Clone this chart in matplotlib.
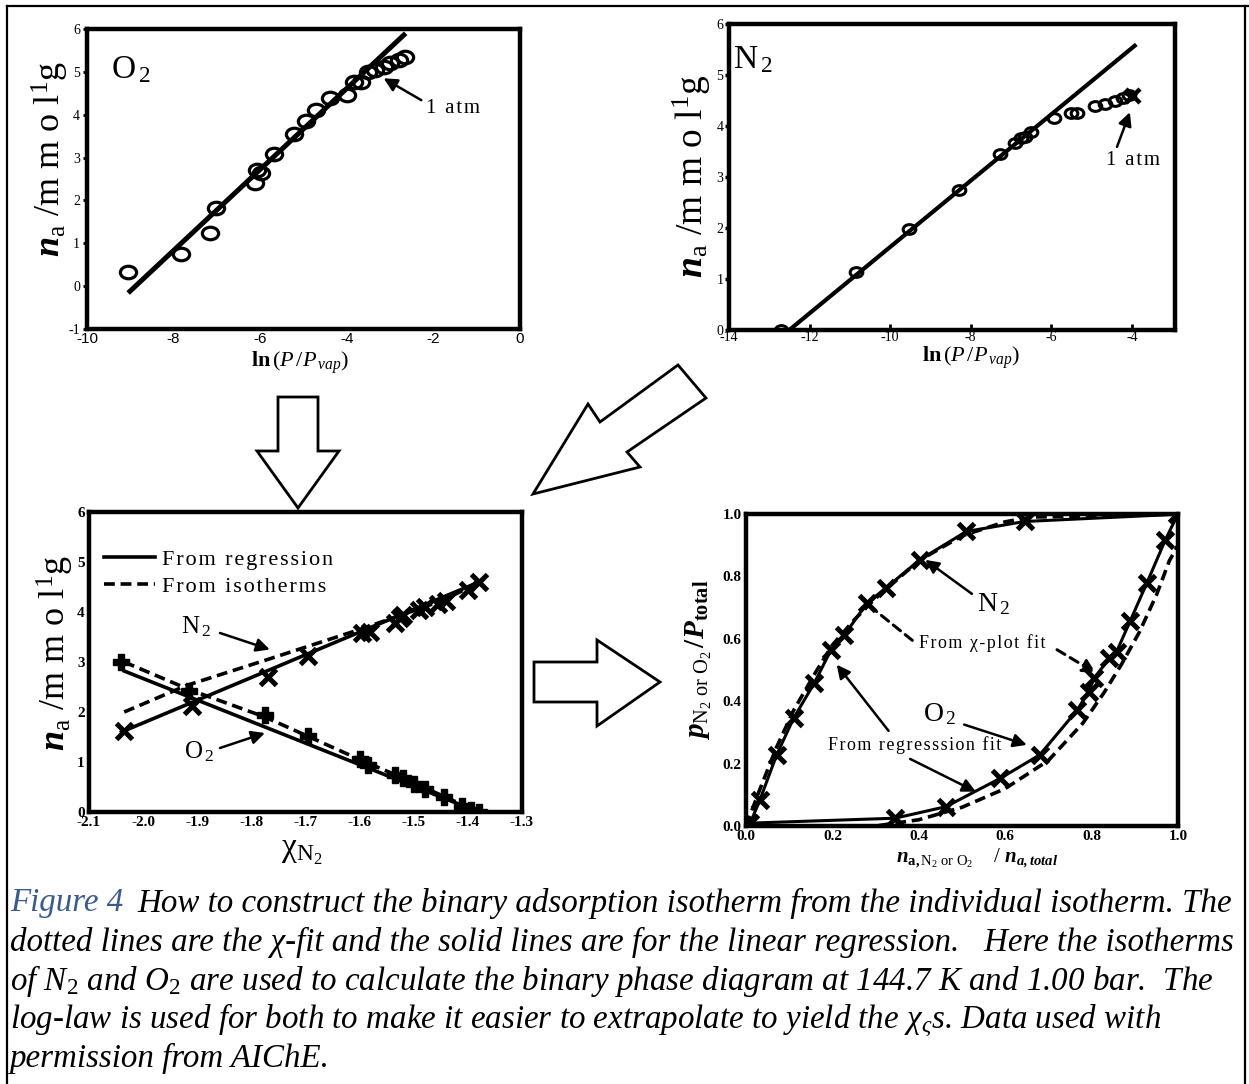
import matplotlib
matplotlib.use('Agg')
import matplotlib.pyplot as plt
from matplotlib.patches import Polygon
from matplotlib.lines import Line2D
from matplotlib.markers import MarkerStyle
from matplotlib.transforms import Affine2D

# ---------------- data ----------------
# Top-left: O2 isotherm, ln(P/Pvap) vs n_a
o2_lnp = [-9.05, -7.84, -7.16, -7.02, -6.13, -6.08, -5.97, -5.67, -5.22, -4.94, -4.70,
          -4.38, -3.99, -3.83, -3.67, -3.51, -3.35, -3.15, -3.00, -2.80, -2.65]
o2_na = [0.34, 0.76, 1.25, 1.82, 2.40, 2.72, 2.63, 3.09, 3.56, 3.85, 4.10,
         4.38, 4.46, 4.77, 4.77, 5.00, 5.04, 5.12, 5.20, 5.28, 5.34]
o2_fit_x = [-9.05, -2.64]
o2_fit_y = [-0.16, 5.90]

# Top-right: N2 isotherm
n2_lnp = [-12.70, -10.84, -9.54, -8.30, -7.27, -6.91, -6.76, -6.66, -6.51, -5.94,
          -5.51, -5.36, -4.92, -4.67, -4.42, -4.22, -4.07]
n2_na = [0.00, 1.14, 1.98, 2.75, 3.46, 3.67, 3.76, 3.79, 3.88, 4.15,
         4.25, 4.25, 4.40, 4.43, 4.50, 4.55, 4.61]
n2_atm_lnp = [-3.97]
n2_atm_na = [4.58]
n2_fit_x = [-12.55, -3.89]
n2_fit_y = [-0.03, 5.60]

# Bottom-left: n_a vs chi_N2
chi_n2_pts = [-2.035, -1.91, -1.77, -1.695, -1.595, -1.58, -1.535, -1.525, -1.52,
              -1.49, -1.48, -1.455, -1.44, -1.40, -1.38]
na_n2_pts = [1.62, 2.12, 2.70, 3.13, 3.58, 3.60, 3.78, 3.88, 3.95,
             4.05, 4.10, 4.17, 4.22, 4.45, 4.60]
chi_o2_pts = [-2.04, -1.915, -1.775, -1.695, -1.60, -1.585, -1.535, -1.52, -1.50,
              -1.48, -1.445, -1.41, -1.395, -1.38]
na_o2_pts = [3.00, 2.42, 1.95, 1.52, 1.07, 0.95, 0.75, 0.68, 0.57,
             0.47, 0.30, 0.13, 0.05, 0.00]
n2_reg_x = [-2.04, -1.375]
n2_reg_y = [1.60, 4.62]
o2_reg_x = [-2.035, -1.38]
o2_reg_y = [2.82, 0.00]
n2_iso_x = [-2.035, -1.92, -1.77, -1.60, -1.52, -1.45, -1.38]
n2_iso_y = [2.00, 2.53, 3.05, 3.65, 3.95, 4.22, 4.58]
o2_iso_x = [-2.035, -1.915, -1.775, -1.60, -1.52, -1.38]
o2_iso_y = [3.00, 2.45, 1.90, 1.05, 0.68, 0.00]

# Bottom-right: binary phase diagram
n2_frac = [0.010, 0.032, 0.071, 0.110, 0.158, 0.197, 0.228, 0.280, 0.323, 0.402, 0.510, 0.645, 0.997]
n2_p = [0.010, 0.083, 0.228, 0.345, 0.458, 0.565, 0.613, 0.714, 0.762, 0.853, 0.944, 0.976, 0.999]
o2_frac = [0.006, 0.345, 0.463, 0.589, 0.680, 0.767, 0.793, 0.806, 0.841, 0.858, 0.889, 0.928, 0.971, 1.000]
o2_p = [0.009, 0.025, 0.062, 0.153, 0.228, 0.372, 0.431, 0.474, 0.538, 0.559, 0.656, 0.779, 0.918, 1.000]
n2_chi_frac = [0.0, 0.03, 0.07, 0.11, 0.16, 0.20, 0.25, 0.30, 0.35, 0.40, 0.50, 0.60, 0.66, 1.0]
n2_chi_p = [0.0, 0.11, 0.25, 0.37, 0.49, 0.58, 0.66, 0.73, 0.79, 0.85, 0.93, 0.975, 0.99, 1.0]
o2_chi_frac = [0.0, 0.30, 0.40, 0.50, 0.60, 0.70, 0.78, 0.83, 0.87, 0.91, 0.95, 0.98, 1.0]
o2_chi_p = [0.0, 0.0, 0.02, 0.06, 0.12, 0.21, 0.33, 0.43, 0.52, 0.62, 0.74, 0.85, 0.90]

caption_lines = [
    "How to construct the binary adsorption isotherm from the individual isotherm. The",
    "dotted lines are the \u03c7-fit and the solid lines are for the linear regression.   Here the isotherms",
    "of N$_2$ and O$_2$ are used to calculate the binary phase diagram at 144.7 K and 1.00 bar.  The",
    "log-law is used for both to make it easier to extrapolate to yield the \u03c7$_\u03c2$s. Data used with",
    "permission from AIChE.",
]

# ---------------- style ----------------
SERIF = ['Liberation Serif', 'DejaVu Serif']
plt.rcParams.update({
    'font.family': SERIF,
    'axes.unicode_minus': False,
    'mathtext.fontset': 'custom',
    'mathtext.rm': 'Liberation Serif',
    'mathtext.it': 'Liberation Serif:italic',
    'mathtext.bf': 'Liberation Serif:bold',
    'mathtext.sf': 'Liberation Serif',
})
try:
    plt.rcParams['mathtext.bfit'] = 'Liberation Serif:italic:bold'
except KeyError:
    pass

W, H = 1249, 1084
fig = plt.figure(figsize=(W / 100, H / 100), dpi=100)
fig.patch.set_facecolor('white')


def add_ax(x0, y0, x1, y1):
    return fig.add_axes([x0 / W, 1 - y1 / H, (x1 - x0) / W, (y1 - y0) / H])


def ftext(x, y, s, **kw):
    return fig.text(x / W, 1 - y / H, s, **kw)


def spaced(s):
    return '\u200a'.join(s)


def box(ax, lw=3.2):
    for sp in ax.spines.values():
        sp.set_linewidth(lw)


arrow_kw = dict(arrowstyle='-|>', color='k', lw=1.8, mutation_scale=20, shrinkA=0, shrinkB=0)

# outer frame
for xs, ys in [([7, 7], [6, H]), ([7, W], [6, 6]), ([1245, 1245], [6, H])]:
    fig.add_artist(Line2D([x / W for x in xs], [1 - y / H for y in ys], color='k', lw=1.6))

ylabel_na = r'$\mathbfit{n}_{\mathrm{a}}$ /m m o l$^{\mathrm{1}}$g'
xlabel_ln = r'$\mathbf{ln}\,(\mathit{P}\,/\mathit{P}_{\,\mathit{vap}})$'

# ---------------- top-left: O2 ----------------
ax1 = add_ax(87, 29, 520, 329)
box(ax1)
ellipse = MarkerStyle('o', transform=Affine2D().scale(1.3, 1.0))
ax1.plot(o2_fit_x, o2_fit_y, color='k', lw=3.6, solid_capstyle='butt')
ax1.plot(o2_lnp, o2_na, linestyle='none', marker=ellipse, ms=9, mfc='none', mec='k', mew=2.3)
ax1.set_xlim(-10, 0)
ax1.set_ylim(-1, 6)
ax1.set_xticks(range(-10, 1, 2))
ax1.set_yticks(range(-1, 7))
ax1.tick_params(axis='x', direction='in', length=0, pad=2, labelsize=11)
ax1.tick_params(axis='y', direction='out', length=3, width=2, pad=2, labelsize=10)
for lab in ax1.get_xticklabels():
    lab.set_family(['Liberation Sans', 'DejaVu Sans'])
ax1.text(-9.45, 5.05, r'O$_{\,2}$', fontsize=24, ha='left', va='center')
ax1.annotate('', xy=(-3.15, 4.85), xytext=(-2.28, 4.34), arrowprops=arrow_kw)
ax1.text(-2.16, 4.14, spaced('1 atm'), fontsize=15, ha='left', va='center')
ftext(50, 159, ylabel_na, rotation=90, fontsize=26, ha='center', va='center')
ftext(300, 363, xlabel_ln, fontsize=16, ha='center', va='center')

# ---------------- top-right: N2 ----------------
ax2 = add_ax(729, 24, 1175, 330)
box(ax2)
ax2.plot(n2_fit_x, n2_fit_y, color='k', lw=3.0, solid_capstyle='butt')
ax2.plot(n2_lnp, n2_na, linestyle='none', marker=ellipse, ms=7, mfc='none', mec='k', mew=2.2)
ax2.plot(n2_atm_lnp, n2_atm_na, linestyle='none', marker='x', ms=10, mec='k', mew=3.2)
ax2.set_xlim(-14, -2.93)
ax2.set_ylim(0, 6)
ax2.set_xticks(range(-14, -3, 2))
ax2.set_yticks(range(0, 7))
ax2.tick_params(axis='x', direction='in', length=4, width=2, pad=1, labelsize=10)
ax2.tick_params(axis='y', direction='out', length=3, width=2.5, pad=1, labelsize=10)
ax2.text(-13.9, 5.3, r'N$_{\,2}$', fontsize=24, ha='left', va='center')
ax2.annotate('', xy=(-4.05, 4.27), xytext=(-4.37, 3.59), arrowprops=arrow_kw)
ax2.text(-4.65, 3.33, spaced('1 atm'), fontsize=15, ha='left', va='center')
ftext(692, 176, ylabel_na, rotation=90, fontsize=27, ha='center', va='center')
ftext(971, 358, xlabel_ln, fontsize=16, ha='center', va='center')

# ---------------- bottom-left: chi plot ----------------
ax3 = add_ax(89, 512, 522, 812)
box(ax3)
h_reg, = ax3.plot(n2_reg_x, n2_reg_y, color='k', lw=2.6)
ax3.plot(o2_reg_x, o2_reg_y, color='k', lw=2.6)
h_iso, = ax3.plot(n2_iso_x, n2_iso_y, color='k', lw=2.6, ls=(0, (3, 1.6)))
ax3.plot(o2_iso_x, o2_iso_y, color='k', lw=2.6, ls=(0, (3, 1.6)))
ax3.plot(chi_n2_pts, na_n2_pts, linestyle='none', marker='x', ms=11, mec='k', mew=3.6)
ax3.plot(chi_o2_pts, na_o2_pts, linestyle='none', marker='P', ms=11, mfc='k', mec='k', mew=1)
ax3.set_xlim(-2.1, -1.3)
ax3.set_ylim(0, 6)
xt = [-2.1, -2.0, -1.9, -1.8, -1.7, -1.6, -1.5, -1.4, -1.3]
ax3.set_xticks(xt)
ax3.set_xticklabels(['%.1f' % v for v in xt])
ax3.set_yticks(range(0, 7))
ax3.tick_params(direction='in', length=0, pad=3, labelsize=11)
for lab in ax3.get_xticklabels() + ax3.get_yticklabels():
    lab.set_fontweight('bold')
ax3.legend([h_reg, h_iso], [spaced('From regression'), spaced('From isotherms')],
           loc='upper left', bbox_to_anchor=(0.035, 0.875), frameon=False, fontsize=16,
           handlelength=2.3, handletextpad=0.3, labelspacing=0.3, borderaxespad=0,
           borderpad=0)
ax3.text(-1.93, 3.70, r'N$_{\,2}$', fontsize=18, ha='left', va='center')
ax3.annotate('', xy=(-1.766, 3.25), xytext=(-1.858, 3.58), arrowprops=arrow_kw)
ax3.text(-1.925, 1.21, r'O$_{\,2}$', fontsize=18, ha='left', va='center')
ax3.annotate('', xy=(-1.775, 1.58), xytext=(-1.858, 1.28), arrowprops=arrow_kw)
ftext(55, 653, ylabel_na, rotation=90, fontsize=26, ha='center', va='center')
ftext(302, 852, '$\\mathrm{\u03c7}_{\\mathrm{N}_{2}}$', fontsize=24, ha='center', va='center')

# ---------------- bottom-right: phase diagram ----------------
ax4 = add_ax(746, 514, 1178, 826)
box(ax4)
ax4.plot(n2_chi_frac, n2_chi_p, color='k', lw=2.6, ls=(0, (3, 1.6)))
ax4.plot(o2_chi_frac, o2_chi_p, color='k', lw=2.6, ls=(0, (3, 1.6)))
ax4.plot(n2_frac, n2_p, color='k', lw=2.2, marker='x', ms=12, mew=3.6)
ax4.plot(o2_frac, o2_p, color='k', lw=2.2, marker='x', ms=12, mew=3.6)
ax4.set_xlim(0, 1)
ax4.set_ylim(0, 1)
t4 = [0, 0.2, 0.4, 0.6, 0.8, 1.0]
ax4.set_xticks(t4)
ax4.set_yticks(t4)
ax4.set_xticklabels(['%.1f' % v for v in t4])
ax4.set_yticklabels(['%.1f' % v for v in t4])
ax4.tick_params(direction='in', length=0, pad=3, labelsize=11)
for lab in ax4.get_xticklabels() + ax4.get_yticklabels():
    lab.set_fontweight('bold')
ax4.text(0.535, 0.71, r'N$_{\,2}$', fontsize=20, ha='left', va='center')
ax4.annotate('', xy=(0.415, 0.853), xytext=(0.523, 0.744), arrowprops=arrow_kw)
ax4.text(0.40, 0.585, spaced('From \u03c7-plot fit'), fontsize=13, ha='left', va='center')
dash_arrow = dict(arrow_kw, linestyle=(0, (3, 2)), lw=2.2)
ax4.annotate('', xy=(0.30, 0.69), xytext=(0.385, 0.595), arrowprops=dict(dash_arrow, arrowstyle='-'))
ax4.annotate('', xy=(0.81, 0.49), xytext=(0.72, 0.565), arrowprops=dash_arrow)
ax4.text(0.41, 0.36, r'O$_{\,2}$', fontsize=20, ha='left', va='center')
ax4.annotate('', xy=(0.65, 0.26), xytext=(0.505, 0.325), arrowprops=arrow_kw)
ax4.text(0.19, 0.26, spaced('From regresssion fit'), fontsize=13, ha='left', va='center')
ax4.annotate('', xy=(0.21, 0.517), xytext=(0.33, 0.305), arrowprops=arrow_kw)
ax4.annotate('', xy=(0.532, 0.11), xytext=(0.38, 0.215), arrowprops=arrow_kw)
ftext(699, 660, r'$\mathbfit{p}_{\mathrm{N_2\ or\ O_2}}\,\mathbf{/}\mathbfit{P}_{\mathbf{total}}$',
      rotation=90, fontsize=21, ha='center', va='center')
ftext(977, 858, r'$\mathbfit{n}_{\mathbf{a,}\mathrm{N_2\ or\ O_2}}$    $/\ \mathbfit{n}_{\mathbfit{a,total}}$',
      fontsize=15, ha='center', va='center')

# ---------------- hollow block arrows ----------------
block_arrows = [
    [(278, 397), (318, 397), (318, 451), (339, 451), (298, 508), (257, 451), (278, 451)],
    [(533, 494), (588, 404), (600, 422), (678, 365), (706, 398), (627, 452), (640, 467)],
    [(534, 662), (597, 662), (597, 640), (660, 682), (597, 726), (597, 702), (534, 702)],
]
for pts in block_arrows:
    fig.add_artist(Polygon([(x / W, 1 - y / H) for x, y in pts], closed=True,
                           facecolor='white', edgecolor='k', lw=2.0,
                           transform=fig.transFigure, joinstyle='miter'))

# ---------------- caption ----------------
cap_y = [903, 942, 981, 1020, 1058]
cap_font = dict(style='italic', family=SERIF, va='center', ha='left')
probe = ftext(10, 903, 'Figure 4  ' + caption_lines[0], fontsize=20, **cap_font)
fig.canvas.draw()
rend = fig.canvas.get_renderer()
wprobe = probe.get_window_extent(rend).width
probe.remove()
fs = 20 * 1226.0 / wprobe
t_fig = ftext(10, cap_y[0], 'Figure 4', fontsize=fs, color='#3b5b8f', **cap_font)
w_fig = t_fig.get_window_extent(rend).width
ftext(10 + w_fig + fs * 0.6, cap_y[0], caption_lines[0], fontsize=fs, color='k', **cap_font)
for yy, line in zip(cap_y[1:], caption_lines[1:]):
    ftext(10, yy, line, fontsize=fs, color='k', **cap_font)

fig.savefig('out.png', dpi=100)
